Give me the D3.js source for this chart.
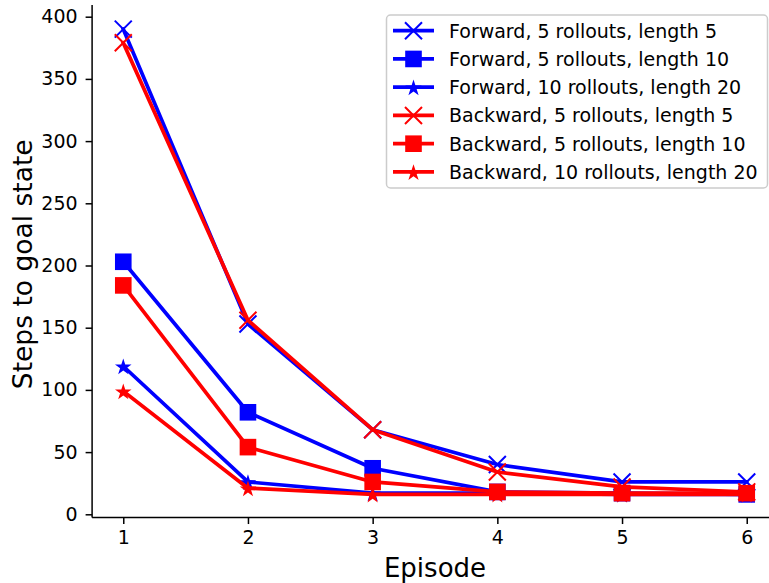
<!DOCTYPE html>
<html>
<head>
<meta charset="utf-8">
<script src="https://cdn.jsdelivr.net/npm/d3@7"></script>
<style>
  body { margin: 0; background: #fff; }
  text { font-family: "DejaVu Sans", sans-serif; }
</style>
</head>
<body>
<div id="chart"></div>
<script>
var width = 769;
var height = 583;

// episodes on the x axis
var episodes = [1, 2, 3, 4, 5, 6];

// steps to goal state
var fwd5len5 = [390, 153, 68, 40, 26, 26];
var fwd5len10 = [203, 82, 37, 18, 17, 16];
var fwd10len20 = [119, 26, 17, 17, 16, 16];
var bwd5len5 = [379, 156, 68, 34, 22, 18];
var bwd5len10 = [184, 54, 26, 18, 17, 17];
var bwd10len20 = [99, 21, 16, 16, 16, 16];

var seriesNames = [
    'Forward, 5 rollouts, length 5',
    'Forward, 5 rollouts, length 10',
    'Forward, 10 rollouts, length 20',
    'Backward, 5 rollouts, length 5',
    'Backward, 5 rollouts, length 10',
    'Backward, 10 rollouts, length 20'
];
var seriesValues = [fwd5len5, fwd5len10, fwd10len20, bwd5len5, bwd5len10, bwd10len20];
var seriesColors = ['#0000ff', '#0000ff', '#0000ff', '#ff0000', '#ff0000', '#ff0000'];
var seriesMarkers = ['x', 'square', 'star', 'x', 'square', 'star'];

var yTicks = [0, 50, 100, 150, 200, 250, 300, 350, 400];

var svg = d3.select("#chart")
            .append("svg")
            .attr("width", width)
            .attr("height", height);

var x = d3.scaleLinear()
    .domain([0.75, 6.25])
    .range([92.1, 777.9]);

var y = d3.scaleLinear()
    .domain([0, 400])
    .range([514.3, 16.7]);

var yBottom = y(-2.6);
var yTop = 5;

// axes (only left and bottom spines)
var xAxis = svg.append("g")
    .attr("transform", "translate(0," + yBottom + ")")
    .call(d3.axisBottom(x).tickValues(episodes).tickFormat(d3.format("d")).tickSizeInner(6.5).tickSizeOuter(0).tickPadding(6));

var yAxis = svg.append("g")
    .attr("transform", "translate(" + x(0.75) + ",0)")
    .call(d3.axisLeft(y).tickValues(yTicks).tickSizeInner(6.5).tickSizeOuter(0).tickPadding(8));

yAxis.select(".domain").attr("d", "M0," + yTop + "V" + yBottom);
xAxis.select(".domain").attr("d", "M" + x(0.75) + ",0H" + width);

svg.selectAll(".domain").attr("stroke", "#000").attr("stroke-width", 1.5);
svg.selectAll(".tick line").attr("stroke", "#000").attr("stroke-width", 1.5);
svg.selectAll(".tick text")
    .attr("fill", "#000")
    .style("font-size", "19px")
    .style("font-family", "DejaVu Sans");

svg.append("text")
    .attr("x", 435)
    .attr("y", 577)
    .attr("text-anchor", "middle")
    .style("font-size", "26px")
    .text("Episode");

svg.append("text")
    .attr("transform", "translate(32," + ((yTop + yBottom) / 2 + 3) + ") rotate(-90)")
    .attr("text-anchor", "middle")
    .style("font-size", "26.5px")
    .text("Steps to goal state");

function drawMarker(g, type, color, cx, cy) {
    if (type === 'x') {
        var r = 8.5;
        g.append("path")
            .attr("d", "M" + (cx - r) + "," + (cy - r) + "L" + (cx + r) + "," + (cy + r) +
                       "M" + (cx - r) + "," + (cy + r) + "L" + (cx + r) + "," + (cy - r))
            .attr("stroke", color)
            .attr("stroke-width", 2)
            .attr("fill", "none");
    } else if (type === 'square') {
        g.append("rect")
            .attr("x", cx - 8.3)
            .attr("y", cy - 8.3)
            .attr("width", 16.6)
            .attr("height", 16.6)
            .attr("fill", color);
    } else {
        g.append("path")
            .attr("d", d3.symbol().type(d3.symbolStar).size(85)())
            .attr("transform", "translate(" + cx + "," + (cy + 1) + ")")
            .attr("fill", color);
    }
}

var line = d3.line()
    .x(function(d, i) { return x(episodes[i]); })
    .y(function(d) { return y(d); });

var plot = svg.append("g");

seriesValues.forEach(function(values, s) {
    var g = plot.append("g");
    g.append("path")
        .attr("d", line(values))
        .attr("fill", "none")
        .attr("stroke", seriesColors[s])
        .attr("stroke-width", 3.7)
        .attr("stroke-linejoin", "round")
        .attr("stroke-linecap", "square");
    values.forEach(function(v, i) {
        drawMarker(g, seriesMarkers[s], seriesColors[s], x(episodes[i]), y(v));
    });
});

// legend
var legend = svg.append("g");
legend.append("rect")
    .attr("x", 386.5)
    .attr("y", 15)
    .attr("width", 381)
    .attr("height", 173)
    .attr("rx", 4)
    .attr("fill", "#fff")
    .attr("fill-opacity", 0.8)
    .attr("stroke", "#cccccc")
    .attr("stroke-width", 1.5);

seriesNames.forEach(function(name, s) {
    var cy = 30.7 + s * 28.25;
    var g = legend.append("g");
    g.append("line")
        .attr("x1", 393)
        .attr("x2", 434)
        .attr("y1", cy)
        .attr("y2", cy)
        .attr("stroke", seriesColors[s])
        .attr("stroke-width", 3.7);
    drawMarker(g, seriesMarkers[s], seriesColors[s], 413.5, cy);
    g.append("text")
        .attr("x", 449)
        .attr("y", cy + 6.8)
        .style("font-size", "19px")
        .attr("fill", "#000")
        .text(name);
});
</script>
</body>
</html>
